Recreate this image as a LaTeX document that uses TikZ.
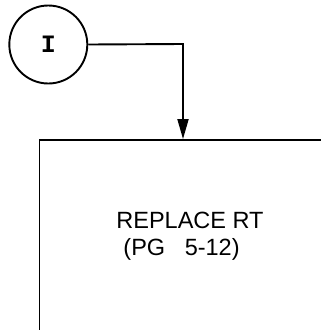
\documentclass[tikz,border=0pt]{standalone}
\usepackage{fontspec}
\setmainfont{Liberation Sans}
\newfontfamily\monofnt{Liberation Mono}
\usetikzlibrary{arrows.meta}
\begin{document}
\begin{tikzpicture}[x=1pt,y=1pt,
  line width=1.9pt,
  connector/.style={draw,-{Triangle[length=20pt,width=11pt]}},
  conncircle/.style={circle,draw,minimum size=78pt,inner sep=0pt,
     font=\monofnt\bfseries\fontsize{25pt}{25pt}\selectfont},
  stepbox/.style={rectangle,draw,inner sep=0pt,
     minimum width=301pt,minimum height=193pt,align=left,
     font=\fontsize{23.5pt}{27pt}\selectfont}]
\useasboundingbox (0,0) rectangle (321,-330);
\clip (0,0) rectangle (321,-330);
\node[conncircle] (c) at (48.3,-44.5) {\raisebox{-3pt}{I}};
\node[stepbox] (b) at (190,-236.5) {REPLACE RT\\\hspace{7pt}(PG\ \ \ 5-12)};
\coordinate (bend) at (183,-44);
\draw[connector] (c.east) -- (bend) -- (bend |- b.north);
\end{tikzpicture}
\end{document}
